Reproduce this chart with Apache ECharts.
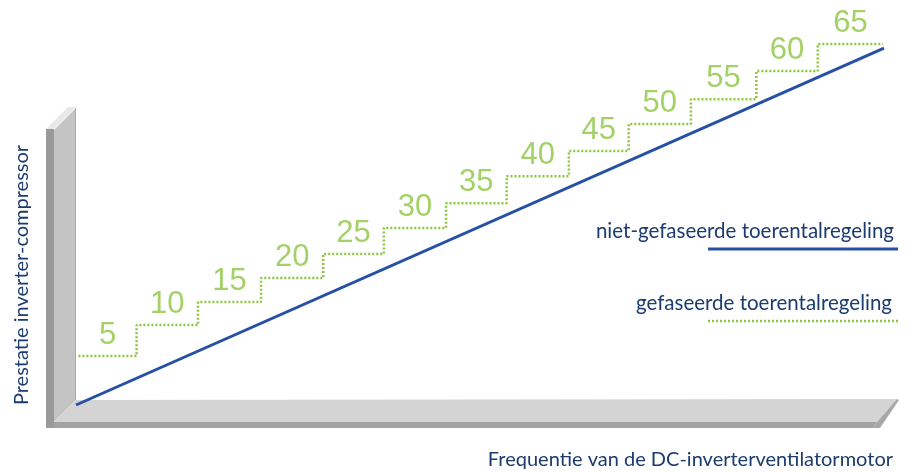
<!DOCTYPE html>
<html>
<head>
<meta charset="utf-8">
<script src="https://cdn.jsdelivr.net/npm/echarts@6/dist/echarts.min.js"></script>
<style>
html, body { margin: 0; padding: 0; background: #fff; }
#stapChart { width: 909px; height: 472px; }
</style>
</head>
<body>
<div id="stapChart"></div>
<script>
// labels boven de trappen
var stapLabels = ['5', '10', '15', '20', '25', '30', '35', '40', '45', '50', '55', '60', '65'];
// grenzen van de trappen op de frequentie-as (0-100)
var stapGrenzen = [0.3, 7.5, 15.1, 22.9, 30.6, 38.1, 45.8, 53.3, 61.0, 68.4, 76.1, 84.2, 91.8, 99.9];
// hoogte van elke trap op de prestatie-as (0-100)
var stapNiveaus = [13.4, 21.9, 28.2, 34.8, 41.4, 48.5, 55.3, 62.7, 69.6, 77.0, 83.8, 91.5, 98.9];
// niet-gefaseerde regeling: begin- en eindpunt
var lijnX = [0, 100];
var lijnY = [0, 97.8];

var tekstKleur = '#1c3b6e';
var groen = '#8cc63f';
var blauw = '#2550a3';
var lettertype = 'Lato';

var chart = echarts.init(document.getElementById('stapChart'));

// trapdata opbouwen
var trapData = [];
for (var i = 0; i < stapNiveaus.length; i++) {
    trapData.push([stapGrenzen[i], stapNiveaus[i]]);
}
trapData.push([stapGrenzen[stapGrenzen.length - 1], stapNiveaus[stapNiveaus.length - 1]]);

var labelData = [];
for (var j = 0; j < stapLabels.length; j++) {
    labelData.push({
        value: [(stapGrenzen[j] + stapGrenzen[j + 1]) / 2, stapNiveaus[j]],
        naam: stapLabels[j]
    });
}

var lijnData = [];
for (var k = 0; k < lijnX.length; k++) {
    lijnData.push([lijnX[k], lijnY[k]]);
}

var option = {
    backgroundColor: '#fff',
    animation: false,
    grid: { left: 76, right: 25, top: 40, bottom: 67 },
    xAxis: { type: 'value', min: 0, max: 100, show: false },
    yAxis: { type: 'value', min: 0, max: 100, show: false },
    graphic: [
        // verticale wand (zijkant, voorkant, bovenkant)
        { type: 'polygon', shape: { points: [[54, 130], [76, 108], [76, 400], [54, 422]] }, style: { fill: '#c4c4c4' } },
        { type: 'line', shape: { x1: 75.5, y1: 108, x2: 75.5, y2: 400 }, style: { stroke: '#a9a9a9', lineWidth: 1 } },
        { type: 'rect', shape: { x: 46, y: 129, width: 8, height: 299 }, style: { fill: '#9a9a9a' } },
        { type: 'polygon', shape: { points: [[46, 129], [54, 129], [76, 107], [68, 107]] }, style: { fill: '#e8e8e8' } },
        // vloer
        { type: 'polygon', shape: { points: [[54, 422], [76, 400], [897, 399], [877, 422]] }, style: { fill: '#d4d4d4' } },
        { type: 'polygon', shape: { points: [[54, 422], [877, 422], [873, 428], [54, 428]] }, style: { fill: '#a2a2a2' } },
        { type: 'polygon', shape: { points: [[897, 399], [899, 400], [880, 428], [873, 428], [877, 422]] }, style: { fill: '#a8a8a8' } },
        // astitels
        {
            type: 'text', x: 22, y: 275, rotation: Math.PI / 2,
            style: { text: 'Prestatie inverter-compressor', fill: tekstKleur, fontSize: 20, fontFamily: lettertype, align: 'center', verticalAlign: 'middle' }
        },
        {
            type: 'text', x: 893, y: 460,
            style: { text: 'Frequentie van de DC-inverterventilatormotor', fill: tekstKleur, fontSize: 20, fontFamily: lettertype, align: 'right', verticalAlign: 'middle' }
        },
        // legenda
        {
            type: 'text', x: 894, y: 231,
            style: { text: 'niet-gefaseerde toerentalregeling', fill: tekstKleur, fontSize: 20.5, fontFamily: lettertype, align: 'right', verticalAlign: 'middle' }
        },
        { type: 'line', shape: { x1: 708, y1: 249, x2: 898, y2: 249 }, style: { stroke: blauw, lineWidth: 3 } },
        {
            type: 'text', x: 892, y: 303,
            style: { text: 'gefaseerde toerentalregeling', fill: tekstKleur, fontSize: 20.5, fontFamily: lettertype, align: 'right', verticalAlign: 'middle' }
        },
        { type: 'line', shape: { x1: 708, y1: 321, x2: 898, y2: 321 }, style: { stroke: groen, lineWidth: 2.5, lineDash: [2, 2] } }
    ],
    series: [{
        name: 'gefaseerde toerentalregeling',
        type: 'line',
        step: 'end',
        data: trapData,
        showSymbol: false,
        clip: false,
        lineStyle: { color: groen, width: 2.5, type: [2, 2] }
    }, {
        name: 'stappen',
        type: 'scatter',
        data: labelData,
        symbolSize: 0,
        label: {
            show: true,
            position: 'top',
            distance: 5,
            formatter: function (p) { return p.data.naam; },
            color: groen,
            fontSize: 31,
            fontFamily: 'Liberation Sans'
        }
    }, {
        name: 'niet-gefaseerde toerentalregeling',
        type: 'line',
        data: lijnData,
        showSymbol: false,
        clip: false,
        lineStyle: { color: blauw, width: 3 }
    }]
};
chart.setOption(option);
</script>
</body>
</html>
